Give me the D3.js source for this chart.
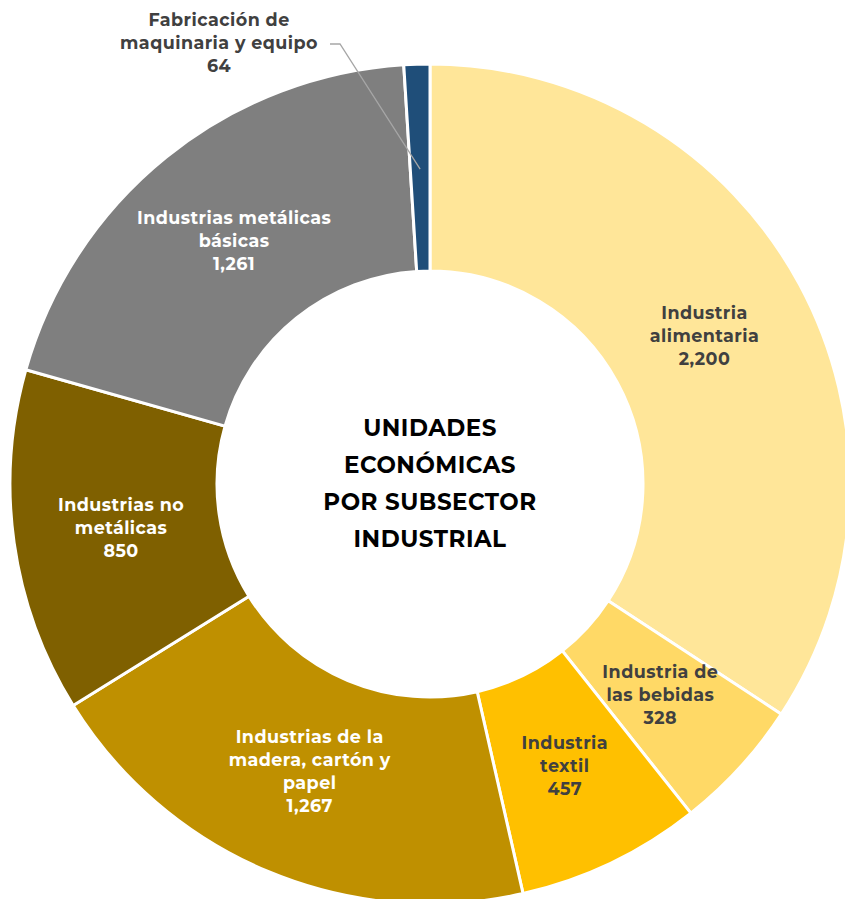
<!DOCTYPE html>
<html><head><meta charset="utf-8">
<script src="https://cdn.jsdelivr.net/npm/d3@7"></script>
<style>body{margin:0;background:#fff}svg{display:block}text{font-family:"Montserrat","Open Sans",sans-serif;font-weight:700}</style>
</head><body>
<svg id="c" width="845" height="899"></svg>
<script>
const categories = ["Industria alimentaria","Industria de las bebidas","Industria textil","Industrias de la madera, cartón y papel","Industrias no metálicas","Industrias metálicas básicas","Fabricación de maquinaria y equipo"];
const values = [2200,328,457,1267,850,1261,64];
const labelLines = [["Industria","alimentaria"],["Industria de","las bebidas"],["Industria","textil"],["Industrias de la","madera, cartón y","papel"],["Industrias no","metálicas"],["Industrias metálicas","básicas"],["Fabricación de","maquinaria y equipo"]];
const colors = ["#FFE699","#FFD966","#FFC000","#BF9000","#7F6000","#7F7F7F","#1F4E79"];
const labelColors = ["#404040","#404040","#404040","#ffffff","#ffffff","#ffffff","#404040"];
const centerTitle = ["UNIDADES","ECONÓMICAS","POR SUBSECTOR","INDUSTRIAL"];

const svg = d3.select("#c");
const cx = 430, cy = 484, R = 420, r0 = 213;
const g = svg.append("g").attr("transform",`translate(${cx},${cy})`);
const pie = d3.pie().sort(null).value(d=>d)(values);
const arc = d3.arc().innerRadius(r0).outerRadius(R);
g.selectAll("path").data(pie).join("path")
  .attr("d",arc).attr("fill",(d,i)=>colors[i]).attr("stroke","#fff").attr("stroke-width",3);

const fmt = d3.format(",");
const lh = 23;
const labelArc = d3.arc().innerRadius(210).outerRadius(414);
pie.forEach((d,i)=>{
  const lines = labelLines[i].concat([fmt(values[i])]);
  let x, y;
  if (i === 6) { x = 219 - cx; y = 20 - cy; }
  else { const c = labelArc.centroid(d); x = c[0]; y = c[1] - (lines.length-1)*lh/2; }
  const t = g.append("text").attr("text-anchor","middle").attr("fill",labelColors[i])
    .attr("font-size",17.5).attr("letter-spacing",0.45);
  lines.forEach((l,k)=>t.append("tspan").attr("x",x).attr("y",y+k*lh).attr("dy","0.35em").text(l));
});
// leader line for small slice
const small = pie[6];
const mid = (small.startAngle+small.endAngle)/2;
const pr = R - 105;
const px = Math.sin(mid)*pr, py = -Math.cos(mid)*pr;
g.append("polyline").attr("points",`${330-cx},${44-cy} ${340-cx},${44-cy} ${px},${py}`)
  .attr("fill","none").attr("stroke","#A6A6A6").attr("stroke-width",1.3);

const ct = g.append("text").attr("text-anchor","middle").attr("fill","#000")
  .attr("font-size",23).attr("letter-spacing",0.5);
centerTitle.forEach((l,k)=>ct.append("tspan").attr("x",0).attr("y",(k-1.5)*37 - 1).attr("dy","0.35em").text(l));
</script>
</body></html>
